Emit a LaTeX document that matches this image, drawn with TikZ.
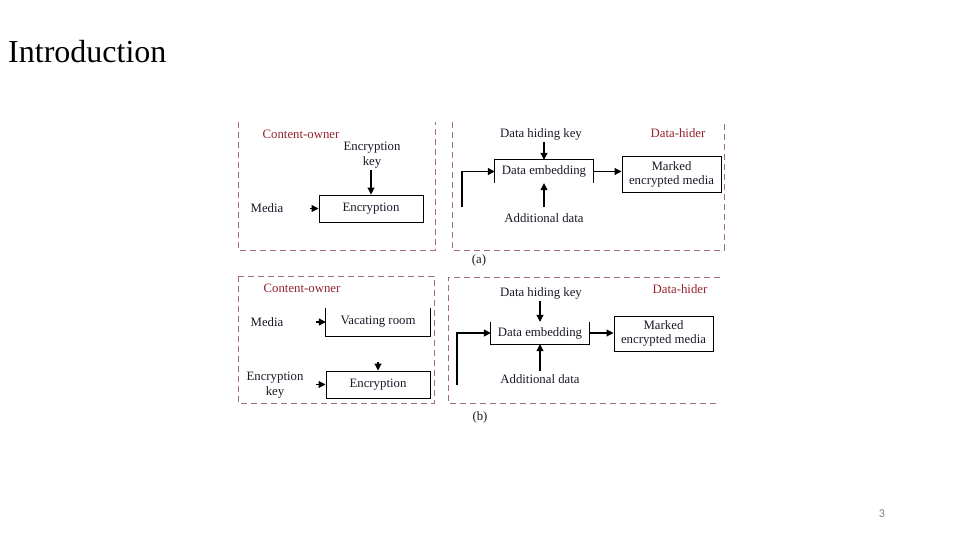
\documentclass[tikz,border=0pt]{standalone}
\usepackage{fontspec}
\setmainfont{Liberation Serif}
\newfontfamily\numfont{Carlito}
\usetikzlibrary{arrows.meta}
\definecolor{ownerred}{RGB}{150,35,45}
\definecolor{dashcol}{RGB}{165,110,110}
\definecolor{inkcol}{RGB}{25,25,40}
\tikzset{
  lbl/.style={font=\fontsize{12.8}{14.5}\selectfont, text=inkcol, inner sep=0pt, align=center},
  redlbl/.style={lbl, text=ownerred},
  frame/.style={draw=dashcol, line width=0.9pt, dash pattern=on 6pt off 4pt},
  boxline/.style={draw=black, line width=1pt},
  conn/.style={draw=black, line width=1.1pt, -{Triangle[length=7pt,width=7pt]}},
}
\begin{document}
\begin{tikzpicture}[x=1pt,y=-1pt]
\useasboundingbox (0,0) rectangle (960,540);
\fill[white] (0,0) rectangle (960,540);

% title and page number
\node[anchor=base west, inner sep=0pt, font=\fontsize{32}{36}\selectfont] (title) at (8,63) {Introduction};
\node[inner sep=0pt, text=gray, font=\numfont\fontsize{12}{14}\selectfont] (pagenum) at (882,514) {3};

% ---------------- panel (a) ----------------
\draw[frame] (238,122) -- (238,250) -- (435,250) -- (435,122);
\draw[frame] (452,122) -- (452,250) -- (724,250) -- (724,122);

\node[redlbl] (coA) at (301,134) {Content-owner};
\node[lbl] (ekA) at (372,155) {Encryption\\key};
\node[lbl, minimum width=104pt, minimum height=27pt, boxline] (encA) at (371,208.5) {Encryption};
\node[lbl] (mediaA) at (267,208) {Media};
\coordinate (mediaAtip) at (310,208.5);
\draw[conn] (encA.north |- ekA.south) ++(0,2) -- (encA.north);
\draw[conn] (mediaAtip) -- (encA.west);

\node[lbl] (dhkA) at (541,134) {Data hiding key};
\node[lbl, minimum width=98pt, minimum height=23pt] (deA) at (544,171.5) {Data embedding};
\draw[boxline] (deA.south west) -- (deA.north west) -- (deA.north east) -- (deA.south east);
\node[lbl, minimum width=99pt, minimum height=35pt, boxline] (markA) at (671.5,174.5) {Marked\\encrypted media};
\node[lbl] (addA) at (544,218) {Additional data};
\node[redlbl] (dhA) at (678,133) {Data-hider};
\node[lbl] (capA) at (479,260) {(a)};
\coordinate (inA) at (462,207);
\draw[conn] (deA.north |- dhkA.south) ++(0,2) -- (deA.north);
\draw[conn] (deA.south |- addA.north) ++(0,-6) -- (deA.south);
\draw[conn] (inA) |- (deA.west);
\draw[conn] (deA.east) -- (deA.east -| markA.west);

% ---------------- panel (b) ----------------
\draw[frame] (238,276) rectangle (434,403);
\draw[frame] (720,277) -- (448,277) -- (448,403) -- (718,403);

\node[redlbl] (coB) at (302,288) {Content-owner};
\node[lbl] (mediaB) at (267,322) {Media};
\node[lbl, minimum width=104pt, minimum height=28pt] (vrB) at (378,322) {Vacating room};
\draw[boxline] (vrB.north west) -- (vrB.south west) -- (vrB.south east) -- (vrB.north east);
\node[lbl, minimum width=104pt, minimum height=27pt, boxline] (encB) at (378,384.5) {Encryption};
\node[lbl] (ekB) at (275,385) {Encryption\\key};
\coordinate (mediaBtip) at (316,322);
\coordinate (vrBtip) at (378,362);
\coordinate (ekBtip) at (316,384.5);
\draw[conn] (mediaBtip) -- (vrB.west);
\draw[conn] (vrBtip) -- (encB.north);
\draw[conn] (ekBtip) -- (encB.west);

\node[lbl] (dhkB) at (541,293) {Data hiding key};
\node[lbl, minimum width=98pt, minimum height=22pt] (deB) at (540,333) {Data embedding};
\draw[boxline] (deB.north west) -- (deB.south west) -- (deB.south east) -- (deB.north east);
\node[lbl, minimum width=99pt, minimum height=35pt, boxline] (markB) at (663.5,333.5) {Marked\\encrypted media};
\node[lbl] (addB) at (540,379) {Additional data};
\node[redlbl] (dhB) at (680,289) {Data-hider};
\node[lbl] (capB) at (480,417) {(b)};
\coordinate (inB) at (457,385);
\draw[conn] (deB.north |- dhkB.south) ++(0,2) -- (deB.north);
\draw[conn] (deB.south |- addB.north) ++(0,-3) -- (deB.south);
\draw[conn] (inB) |- (deB.west);
\draw[conn] (deB.east) -- (deB.east -| markB.west);
\end{tikzpicture}
\end{document}
